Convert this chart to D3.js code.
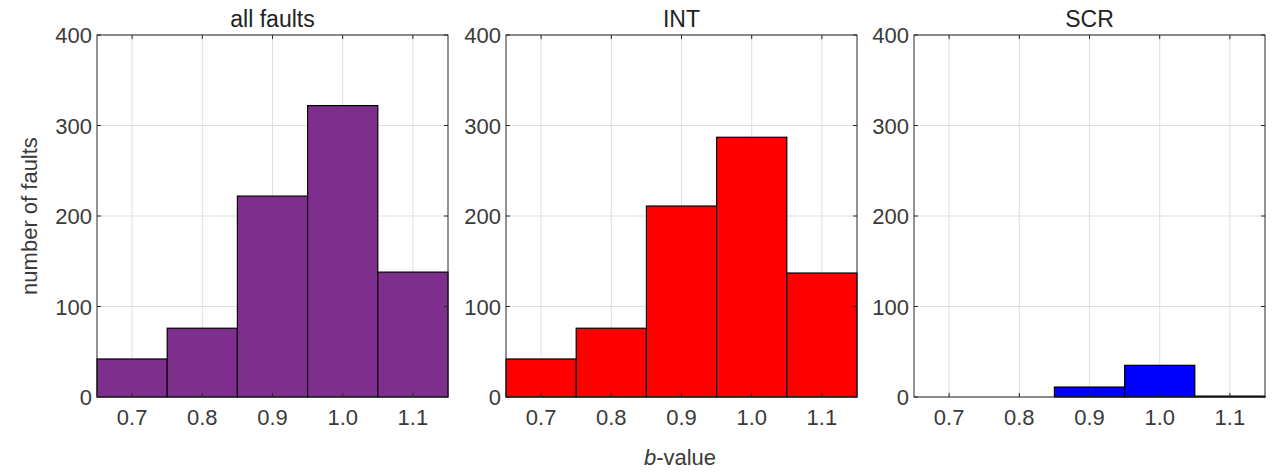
<!DOCTYPE html>
<html>
<head>
<meta charset="utf-8">
<script src="https://cdn.jsdelivr.net/npm/d3@7"></script>
<style>
  body { margin: 0; background: #fff; }
  text { font-family: "Liberation Sans", Arial, sans-serif; fill: #3a3a3a; }
</style>
</head>
<body>
<div id="chart"></div>
<script>
// b-value bins (centres) and counts per fault group
var bins = [0.7, 0.8, 0.9, 1.0, 1.1];
var allFaults = [42, 76, 222, 322, 138];
var intFaults = [42, 76, 211, 287, 137];
var scrFaults = [0, 0, 11, 35, 1];
var titles = ["all faults", "INT", "SCR"];
var colors = ["#7E2F8E", "#FF0000", "#0000FF"];
var xTicks = [0.7, 0.8, 0.9, 1.0, 1.1];
var yTicks = [0, 100, 200, 300, 400];

var width = 1274, height = 472;
var panels = [
  {left: 97, counts: allFaults},
  {left: 506, counts: intFaults},
  {left: 914, counts: scrFaults}
];
var pw = 351, plotTop = 35, plotBottom = 397;

var svg = d3.select("#chart").append("svg")
    .attr("width", width)
    .attr("height", height);

var y = d3.scaleLinear().domain([0, 400]).range([plotBottom, plotTop]);

panels.forEach(function(p, i) {
  var x = d3.scaleLinear().domain([0.65, 1.15]).range([p.left, p.left + pw]);
  var g = svg.append("g");

  // grid
  g.selectAll(".gx").data(xTicks).enter().append("line")
      .attr("x1", x).attr("x2", x)
      .attr("y1", plotTop).attr("y2", plotBottom)
      .attr("stroke", "#dfdfdf").attr("stroke-width", 1);
  g.selectAll(".gy").data(yTicks).enter().append("line")
      .attr("x1", p.left).attr("x2", p.left + pw)
      .attr("y1", y).attr("y2", y)
      .attr("stroke", "#dfdfdf").attr("stroke-width", 1);

  // bars
  g.selectAll(".bar").data(p.counts).enter().append("rect")
      .attr("x", function(d, j) { return x(bins[j] - 0.05); })
      .attr("width", function(d, j) { return x(bins[j] + 0.05) - x(bins[j] - 0.05); })
      .attr("y", function(d) { return y(d); })
      .attr("height", function(d) { return y(0) - y(d); })
      .attr("fill", colors[i])
      .attr("stroke", "#000")
      .attr("stroke-width", 1.2);

  // box
  g.append("rect")
      .attr("x", p.left).attr("y", plotTop)
      .attr("width", pw).attr("height", plotBottom - plotTop)
      .attr("fill", "none").attr("stroke", "#262626").attr("stroke-width", 1);

  // inner ticks on all four sides
  g.selectAll(".tb").data(xTicks).enter().append("line")
      .attr("x1", x).attr("x2", x)
      .attr("y1", plotBottom).attr("y2", plotBottom - 4)
      .attr("stroke", "#262626");
  g.selectAll(".tt").data(xTicks).enter().append("line")
      .attr("x1", x).attr("x2", x)
      .attr("y1", plotTop).attr("y2", plotTop + 4)
      .attr("stroke", "#262626");
  g.selectAll(".tl").data(yTicks).enter().append("line")
      .attr("x1", p.left).attr("x2", p.left + 4)
      .attr("y1", y).attr("y2", y)
      .attr("stroke", "#262626");
  g.selectAll(".tr").data(yTicks).enter().append("line")
      .attr("x1", p.left + pw).attr("x2", p.left + pw - 4)
      .attr("y1", y).attr("y2", y)
      .attr("stroke", "#262626");

  // tick labels
  g.selectAll(".xl").data(xTicks).enter().append("text")
      .attr("x", x).attr("y", plotBottom + 28)
      .attr("text-anchor", "middle")
      .style("font-size", "22px")
      .text(function(d) { return d.toFixed(1); });
  g.selectAll(".yl").data(yTicks).enter().append("text")
      .attr("x", p.left - 5).attr("y", function(d) { return y(d) + 8; })
      .attr("text-anchor", "end")
      .style("font-size", "22px")
      .text(function(d) { return d; });

  // title
  g.append("text")
      .attr("x", p.left + pw / 2).attr("y", 27)
      .attr("text-anchor", "middle")
      .style("font-size", "23px")
      .style("fill", "#222")
      .text(titles[i]);
});

svg.append("text")
    .attr("transform", "translate(37,216) rotate(-90)")
    .attr("text-anchor", "middle")
    .style("font-size", "22px")
    .text("number of faults");

var xl = svg.append("text")
    .attr("x", 680).attr("y", 465)
    .attr("text-anchor", "middle")
    .style("font-size", "22px");
xl.append("tspan").style("font-style", "italic").text("b");
xl.append("tspan").text("-value");
</script>
</body>
</html>
